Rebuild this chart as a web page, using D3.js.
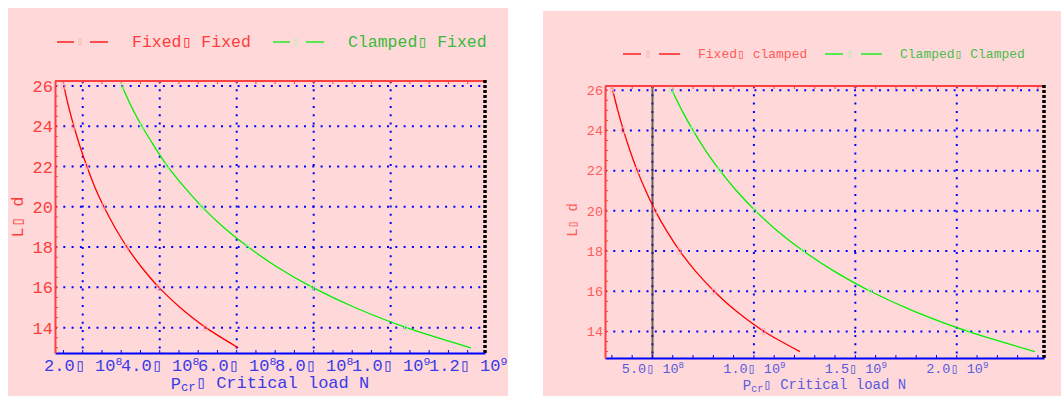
<!DOCTYPE html>
<html lang="en">
<head>
<meta charset="UTF-8">
<title>Critical load vs slenderness</title>
<script src="https://d3js.org/d3.v7.min.js"></script>
<style>
    body { margin: 0; background: #fff; }
    svg text { font-family: "Liberation Mono", "Courier New", monospace; }
</style>
</head>
<body>
<svg width="1061" height="396"></svg>
<script>
    // slenderness ratio L/d and the critical loads (N)
    const slenderness = [26, 25, 24, 23, 22, 21, 20, 19, 18, 17, 16, 15, 14, 13];
    const fixedFixed     = [1.51e8, 1.63e8, 1.77e8, 1.93e8, 2.11e8, 2.31e8, 2.55e8, 2.83e8, 3.15e8, 3.53e8, 3.98e8, 4.53e8, 5.20e8, 6.04e8];
    const clampedFixed   = [3.02e8, 3.26e8, 3.54e8, 3.86e8, 4.21e8, 4.63e8, 5.10e8, 5.65e8, 6.30e8, 7.06e8, 7.97e8, 9.07e8, 1.041e9, 1.208e9];
    const fixedClamped   = [3.04e8, 3.29e8, 3.57e8, 3.89e8, 4.25e8, 4.67e8, 5.14e8, 5.70e8, 6.35e8, 7.12e8, 8.04e8, 9.14e8, 1.050e9, 1.227e9];
    const clampedClamped = [5.96e8, 6.45e8, 7.00e8, 7.62e8, 8.33e8, 9.14e8, 1.008e9, 1.116e9, 1.244e9, 1.395e9, 1.574e9, 1.791e9, 2.056e9, 2.385e9];

    const leftNames  = ['Fixed\u25af Fixed', 'Clamped\u25af Fixed'];
    const rightNames = ['Fixed\u25af clamped', 'Clamped\u25af Clamped'];

    const yTicks = [14, 16, 18, 20, 22, 24, 26];
    const leftXTicks = [2e8, 4e8, 6e8, 8e8, 1e9, 1.2e9];
    const leftXMant  = ['2.0', '4.0', '6.0', '8.0', '1.0', '1.2'];
    const leftXExp   = ['8', '8', '8', '8', '9', '9'];
    const leftXGrid  = [2e8, 4e8, 6e8, 8e8, 1e9];
    const rightXTicks = [5e8, 1e9, 1.5e9, 2e9];
    const rightXMant  = ['5.0', '1.0', '1.5', '2.0'];
    const rightXExp   = ['8', '9', '9', '9'];
    const rightXGrid  = [5e8, 1e9, 1.5e9, 2e9];
    const rightRefLoad = [5e8];

    const svg = d3.select('svg');
    const RED = '#ff0000', GREEN = '#00ee00', BLUE = '#0000ff';

    function drawPanel(p) {
        const g = svg.append('g');

        g.append('rect')
            .attr('x', p.bg[0]).attr('y', p.bg[1])
            .attr('width', p.bg[2]).attr('height', p.bg[3])
            .attr('fill', '#ffd9d9');

        const x = d3.scaleLinear().domain(p.xDomain).range([p.left, p.right]);
        const y = d3.scaleLinear().domain(p.yDomain).range([p.bottom, p.top]);

        // dotted grid
        g.selectAll('.hgrid').data(yTicks).join('line')
            .attr('x1', p.left).attr('x2', p.right)
            .attr('y1', d => y(d)).attr('y2', d => y(d))
            .attr('stroke', BLUE).attr('stroke-width', 2)
            .attr('stroke-dasharray', '2,6.3');
        g.selectAll('.vgrid').data(p.xGrid).join('line')
            .attr('x1', d => x(d)).attr('x2', d => x(d))
            .attr('y1', p.top).attr('y2', p.bottom)
            .attr('stroke', BLUE).attr('stroke-width', 2)
            .attr('stroke-dasharray', '2,6.3');

        // vertical reference line
        g.selectAll('.ref').data(p.refs).join('line')
            .attr('x1', d => x(d)).attr('x2', d => x(d))
            .attr('y1', p.top).attr('y2', p.bottom)
            .attr('stroke', '#333').attr('stroke-opacity', 0.75).attr('stroke-width', 2);

        // minor ticks
        g.selectAll('.tb').data(p.minorX).join('line')
            .attr('x1', d => x(d)).attr('x2', d => x(d))
            .attr('y1', p.bottom).attr('y2', p.bottom - 3)
            .attr('stroke', BLUE).attr('stroke-width', 1);
        g.selectAll('.tt').data(p.minorX).join('line')
            .attr('x1', d => x(d)).attr('x2', d => x(d))
            .attr('y1', p.top).attr('y2', p.top + 3)
            .attr('stroke', '#ff4040').attr('stroke-width', 1);
        g.selectAll('.tl').data(d3.range(13, 26.01, 0.5)).join('line')
            .attr('x1', p.left).attr('x2', p.left + 3)
            .attr('y1', d => y(d)).attr('y2', d => y(d))
            .attr('stroke', '#ff4040').attr('stroke-width', 1);

        // frame
        g.append('line').attr('x1', p.left).attr('x2', p.right)
            .attr('y1', p.top).attr('y2', p.top)
            .attr('stroke', '#ff4040').attr('stroke-width', 2);
        g.append('line').attr('x1', p.right).attr('x2', p.right)
            .attr('y1', p.top - 1).attr('y2', p.bottom + 1)
            .attr('stroke', '#000').attr('stroke-width', 3.5)
            .attr('stroke-dasharray', '3,2');

        // curves
        const line = d3.line()
            .x(d => x(d.load))
            .y(d => y(d.ratio))
            .curve(d3.curveMonotoneY);

        p.series.forEach(s => {
            const pts = slenderness.map((r, i) => ({ ratio: r, load: s.values[i] }));
            g.append('path')
                .datum(pts)
                .attr('fill', 'none')
                .attr('stroke', s.color)
                .attr('stroke-width', 1.3)
                .attr('d', line);
            g.selectAll(null).data(pts.filter((d, i) => i % 2 === 0)).join('rect')
                .attr('x', d => x(d.load) - 2).attr('y', d => y(d.ratio) - 3)
                .attr('width', 3).attr('height', 6)
                .attr('fill', 'none')
                .attr('stroke', s.mark).attr('stroke-width', 0.8);
        });

        // axes
        const xAxis = g.append('g')
            .attr('transform', `translate(0,${p.bottom})`)
            .call(d3.axisBottom(x).tickValues(p.xTicks).tickSize(0).tickSizeOuter(0).tickPadding(p.xPad));
        xAxis.select('.domain').attr('stroke', BLUE).attr('stroke-width', 2);
        xAxis.selectAll('text')
            .attr('fill', p.blueText)
            .style('font-size', p.tickFont + 'px')
            .text(null)
            .each(function (d, i) {
                const t = d3.select(this);
                t.append('tspan').text(p.xMant[i] + '\u25af 10');
                t.append('tspan').attr('dy', '-0.5em').style('font-size', '0.68em').text(p.xExp[i]);
            });

        const yAxis = g.append('g')
            .attr('transform', `translate(${p.left},0)`)
            .call(d3.axisLeft(y).tickValues(yTicks).tickSize(0).tickSizeOuter(0).tickPadding(2));
        yAxis.select('.domain').attr('stroke', '#ff4040').attr('stroke-width', 2);
        yAxis.selectAll('text')
            .attr('fill', p.redText)
            .style('font-size', p.tickFont + 'px');

        // axis titles
        const xt = g.append('text')
            .attr('x', (p.left + p.right) / 2).attr('y', p.xTitleY)
            .attr('text-anchor', 'middle')
            .attr('fill', p.blueText)
            .style('font-size', p.titleFont + 'px');
        xt.append('tspan').text('P');
        xt.append('tspan').attr('dy', '0.18em').style('font-size', '0.72em').text('cr');
        xt.append('tspan').attr('dy', '-0.18em').text('\u25af Critical load N');

        g.append('text')
            .attr('transform', `translate(${p.yTitle[0]},${p.yTitle[1]}) rotate(-90)`)
            .attr('text-anchor', 'middle')
            .attr('fill', p.redText)
            .style('font-size', p.titleFont + 'px')
            .text('L\u25af d');

        // legend
        const lg = g.selectAll('.legend').data(p.series).join('g')
            .attr('transform', (d, i) => `translate(${p.legendX[i]},${p.legendY})`);
        lg.append('line').attr('x1', 0).attr('x2', p.lk[0]).attr('stroke', d => d.color).attr('stroke-width', 1.3);
        lg.append('rect').attr('x', p.lk[1]).attr('y', -3).attr('width', 2).attr('height', 6)
            .attr('fill', 'none').attr('stroke', d => d.mark).attr('stroke-width', 0.8);
        lg.append('line').attr('x1', p.lk[2]).attr('x2', p.lk[3]).attr('stroke', d => d.color).attr('stroke-width', 1.3);
        lg.append('text')
            .attr('x', p.lk[4]).attr('y', p.legendFont * 0.33)
            .attr('fill', d => d.textColor)
            .style('font-size', p.legendFont + 'px')
            .text(d => d.name);
    }

    drawPanel({
        bg: [8, 8, 500, 388],
        left: 55, right: 485, top: 81, bottom: 353,
        xDomain: [1.28e8, 1.245e9], yDomain: [12.74, 26.25],
        xTicks: leftXTicks, xMant: leftXMant, xExp: leftXExp, xGrid: leftXGrid,
        minorX: d3.range(1.5e8, 1.2e9 + 1, 5e7),
        refs: [],
        xPad: 6, tickFont: 17, titleFont: 17, legendFont: 16.5,
        xTitleY: 389, yTitle: [23, 217],
        blueText: '#3a3ae8', redText: '#ff3c3c',
        legendX: [57, 273], legendY: 42, lk: [17, 22, 33, 51, 75],
        series: [
            { name: leftNames[0], values: fixedFixed, color: RED, mark: '#ffb0b0', textColor: '#ff3c3c' },
            { name: leftNames[1], values: clampedFixed, color: GREEN, mark: '#b8f0b0', textColor: '#3cb83c' }
        ]
    });

    drawPanel({
        bg: [543, 11, 518, 385],
        left: 605, right: 1044, top: 86, bottom: 358,
        xDomain: [2.66e8, 2.43e9], yDomain: [12.68, 26.21],
        xTicks: rightXTicks, xMant: rightXMant, xExp: rightXExp, xGrid: rightXGrid,
        minorX: d3.range(3e8, 2.4e9 + 1, 1e8),
        refs: rightRefLoad,
        xPad: 5, tickFont: 13.5, titleFont: 14, legendFont: 13,
        xTitleY: 390, yTitle: [577, 220],
        blueText: '#5a5ae0', redText: '#ff5a5a',
        legendX: [623, 825], legendY: 54, lk: [18, 24, 36, 57, 75],
        series: [
            { name: rightNames[0], values: fixedClamped, color: RED, mark: '#ffb0b0', textColor: '#ff5a5a' },
            { name: rightNames[1], values: clampedClamped, color: GREEN, mark: '#b8f0b0', textColor: '#4cbc4c' }
        ]
    });
</script>
</body>
</html>
